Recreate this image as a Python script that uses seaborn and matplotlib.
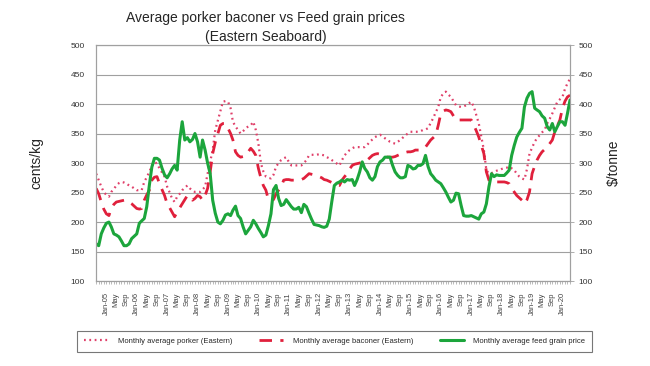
import pandas as pd
import matplotlib.pyplot as plt
import matplotlib.dates as mdates
import seaborn as sns

# monthly data, Sep-04 .. Apr-20
months = pd.date_range("2004-09-01", periods=188, freq="MS")

porker = [282, 271, 260, 251, 246, 243, 251, 256, 262, 266, 268, 267, 265, 262, 260, 257,
          254, 254, 254, 268, 276, 285, 295, 302, 299, 291, 284, 277, 260, 250, 240, 234,
          243, 248, 254, 258, 262, 257, 254, 251, 251, 251, 255, 260, 282, 302, 322, 356,
          372, 387, 404, 405, 404, 393, 370, 362, 356, 350, 354, 359, 362, 364, 370, 356,
          333, 299, 286, 277, 275, 274, 280, 294, 300, 305, 308, 310, 302, 296, 296, 296,
          296, 296, 300, 305, 313, 314, 314, 314, 315, 314, 313, 310, 308, 305, 302, 299,
          296, 305, 313, 318, 322, 325, 327, 327, 327, 327, 327, 331, 336, 340, 344, 346,
          348, 345, 342, 339, 336, 334, 333, 336, 339, 343, 347, 350, 353, 353, 353, 353,
          354, 356, 357, 359, 368, 376, 386, 395, 412, 418, 421, 416, 412, 405, 398, 396,
          395, 396, 398, 401, 404, 395, 382, 367, 345, 322, 288, 282, 283, 285, 287, 288,
          290, 291, 292, 294, 291, 288, 282, 277, 274, 272, 290, 316, 326, 336, 342, 347,
          352, 356, 367, 375, 384, 394, 404, 408, 412, 426, 435, 443]

baconer = [257, 248, 234, 222, 214, 211, 223, 230, 234, 235, 236, 237, 237, 234, 231, 227,
           223, 222, 223, 237, 246, 254, 271, 276, 277, 265, 255, 245, 231, 224, 217, 209,
           217, 224, 231, 238, 245, 243, 237, 240, 245, 243, 237, 245, 257, 285, 316, 335,
           350, 364, 367, 367, 359, 350, 339, 319, 313, 310, 311, 313, 319, 325, 320, 313,
           291, 274, 262, 254, 238, 237, 238, 248, 254, 260, 271, 272, 272, 271, 271, 271,
           271, 272, 274, 278, 282, 281, 280, 278, 277, 275, 272, 271, 269, 267, 265, 263,
           262, 271, 277, 282, 290, 296, 298, 299, 300, 302, 303, 305, 309, 313, 315, 316,
           315, 313, 311, 310, 310, 310, 311, 313, 315, 316, 318, 319, 319, 320, 322, 322,
           322, 324, 327, 333, 339, 343, 347, 364, 384, 388, 390, 389, 387, 380, 373, 373,
           373, 373, 373, 373, 373, 364, 355, 344, 330, 316, 285, 271, 269, 268, 268, 268,
           268, 268, 267, 265, 257, 251, 245, 241, 237, 231, 238, 251, 282, 295, 305, 313,
           319, 323, 327, 333, 339, 353, 363, 373, 393, 405, 412, 415]

feed = [163, 160, 180, 190, 198, 200, 192, 180, 178, 175, 168, 160, 160, 163, 172, 176,
        180, 198, 202, 206, 226, 262, 293, 308, 308, 305, 291, 280, 275, 282, 290, 296,
        288, 339, 370, 339, 343, 336, 340, 350, 336, 310, 339, 322, 300, 282, 237, 215,
        200, 197, 203, 212, 214, 211, 220, 227, 211, 206, 192, 180, 186, 192, 203, 197,
        189, 182, 175, 178, 194, 214, 255, 262, 240, 228, 230, 238, 232, 226, 222, 222,
        225, 216, 230, 226, 215, 205, 196, 195, 194, 192, 191, 193, 205, 235, 262, 266,
        268, 271, 268, 272, 271, 272, 262, 272, 285, 302, 291, 285, 275, 271, 277, 294,
        302, 305, 310, 310, 310, 296, 285, 279, 275, 275, 277, 296, 294, 290, 291, 296,
        296, 299, 313, 294, 282, 277, 271, 268, 265, 258, 251, 242, 234, 237, 249, 248,
        228, 211, 210, 210, 211, 209, 207, 205, 214, 217, 231, 260, 282, 277, 280, 279,
        279, 279, 283, 288, 313, 330, 344, 352, 359, 395, 410, 418, 421, 393, 390, 387,
        380, 376, 362, 356, 367, 353, 362, 370, 370, 364, 384, 407]

df = pd.DataFrame({"month": months, "porker": porker, "baconer": baconer, "feed": feed})

sns.set_style("white")
plt.rcParams["font.family"] = ["Liberation Sans", "DejaVu Sans"]

fig = plt.figure(figsize=(6.5, 3.66), dpi=100)
ax = fig.add_axes([0.148, 0.232, 0.729, 0.645])
ax2 = ax.twinx()

sns.lineplot(data=df, x="month", y="porker", ax=ax, color="#e0406a", lw=1.6,
             linestyle=(0, (0.8, 1.6)), label="Monthly average porker (Eastern)", legend=False)
sns.lineplot(data=df, x="month", y="baconer", ax=ax, color="#e0203c", lw=2.0,
             linestyle=(0, (4.5, 3)), label="Monthly average baconer (Eastern)", legend=False)
sns.lineplot(data=df, x="month", y="feed", ax=ax2, color="#1ca53c", lw=2.2,
             label="Monthly average feed grain price", legend=False)

for a in (ax, ax2):
    a.set_ylim(100, 500)
    a.set_yticks(range(100, 501, 50))
    a.set_xlim(months[0], months[-1])
    a.set_xlabel("")
    for s in a.spines.values():
        s.set_color("#a0a0a0")
        s.set_linewidth(0.8)

ax.grid(axis="y", color="#a0a0a0", lw=0.8)
ax.set_ylabel("cents/kg", fontsize=10, labelpad=20)
ax2.set_ylabel("$/tonne", fontsize=10, labelpad=10)
ax.tick_params(axis="y", labelsize=6, length=0, pad=8, colors="#333333")
ax2.tick_params(axis="y", labelsize=6, length=3, width=0.6, color="#a0a0a0", pad=3,
                labelcolor="#333333")

ax.xaxis.set_minor_locator(mdates.MonthLocator())
ax.xaxis.set_major_formatter(plt.FuncFormatter(
    lambda v, p: mdates.num2date(v).strftime("Jan-%y") if mdates.num2date(v).month == 1
    else mdates.num2date(v).strftime("%b")))
ticks = [t for t in months if t.month in (1, 5, 9) and t >= pd.Timestamp("2005-01-01")]
ax.set_xticks(ticks)
ax.tick_params(axis="x", which="major", labelsize=5.5, rotation=90, length=2, width=0.5,
               color="#a0a0a0", labelcolor="#444444", pad=6)
ax.tick_params(axis="x", which="minor", length=2, width=0.5, color="#a0a0a0")
ax.xaxis.set_tick_params(which="both", bottom=True)

fig.text(0.409, 0.95, "Average porker baconer vs Feed grain prices", ha="center",
         va="center", fontsize=10)
fig.text(0.409, 0.9, "(Eastern Seaboard)", ha="center", va="center", fontsize=10)

handles = ax.get_lines()[:2] + ax2.get_lines()[:1]
leg = fig.legend(handles=handles, labels=[h.get_label() for h in handles], loc="center",
                 bbox_to_anchor=(0.515, 0.068), ncol=3, fontsize=5.5, frameon=True,
                 fancybox=False, edgecolor="#555555", borderpad=0.9, handlelength=3.2,
                 columnspacing=3.5, handletextpad=1.2)
leg.get_frame().set_linewidth(0.8)

fig.savefig("out.png", dpi=100)
